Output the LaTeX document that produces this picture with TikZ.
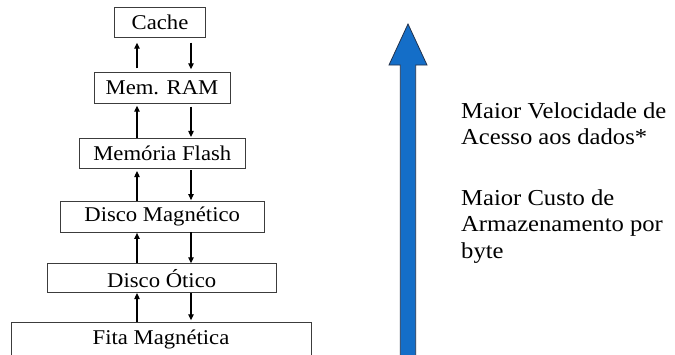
\documentclass[tikz,border=0pt]{standalone}
\usepackage{fontspec}
\setmainfont{Liberation Serif}[FakeStretch=1.08]
\usetikzlibrary{arrows.meta}
\definecolor{arrowblue}{RGB}{20,110,200}
\definecolor{arrowedge}{RGB}{35,50,75}
\definecolor{boxedge}{RGB}{60,60,60}
\begin{document}
\begin{tikzpicture}[x=1pt,y=-1pt,
  memory/.style={draw=boxedge,line width=0.8pt,fill=white,inner sep=0pt,font=\fontsize{21}{24}\selectfont},
  flow/.style={line width=1.1pt,-{Triangle[length=6pt,width=5.5pt]}},
  label/.style={anchor=base west,inner sep=0pt,font=\fontsize{22.8}{27}\selectfont}]
\useasboundingbox (0,0) rectangle (675,354);
\fill[white] (0,0) rectangle (675,354);
% boxes
\node[memory,minimum width=91pt,minimum height=30pt] (cache) at (160,22.3) {Cache};
\node[memory,minimum width=136pt,minimum height=30.6pt] (ram) at (162,88) {Mem. RAM};
\node[memory,minimum width=166.7pt,minimum height=30.4pt] (flash) at (162.3,153.5) {Memória Flash};
\node[memory,minimum width=203.7pt,minimum height=31pt] (disco) at (162.2,216.5) {Disco Magnético};
\node[memory,minimum width=228.7pt,minimum height=29pt] (otico) at (161.7,278.2) {Disco Ótico};
\node[memory,minimum width=300pt,minimum height=32.8pt] (fita) at (161,339.1) {Fita Magnética};
% arrows
\coordinate (ux) at (137,0);
\coordinate (dx) at (191,0);
\draw[flow,shorten <=4pt,shorten >=5pt] (ram.north -| ux) -- (cache.south -| ux);
\draw[flow,shorten <=5pt,shorten >=3pt] (cache.south -| dx) -- (ram.north -| dx);
\draw[flow,shorten >=2pt] (flash.north -| ux) -- (ram.south -| ux);
\draw[flow,shorten <=3pt,shorten >=1pt] (ram.south -| dx) -- (flash.north -| dx);
\draw[flow,shorten >=2pt] (disco.north -| ux) -- (flash.south -| ux);
\draw[flow,shorten <=1pt,shorten >=0.5pt] (flash.south -| dx) -- (disco.north -| dx);
\draw[flow,shorten >=0.5pt] (otico.north -| ux) -- (disco.south -| ux);
\draw[flow] (disco.south -| dx) -- (otico.north -| dx);
\draw[flow] (fita.north -| ux) -- (otico.south -| ux);
\draw[flow,shorten >=2pt] (otico.south -| dx) -- (fita.north -| dx);
% big blue arrow
\filldraw[fill=arrowblue,draw=arrowedge,line width=0.8pt,line join=miter]
  (400.3,356) -- (400.3,65) -- (389,65) -- (408,24) -- (427,65) -- (415.7,65) -- (415.7,356) -- cycle;
% text
\node[label] (t1) at (461,118) {Maior Velocidade de};
\node[label] (t2) at (461,144.7) {Acesso aos dados*};
\node[label] (t3) at (461,205) {Maior Custo de};
\node[label] (t4) at (461,231.7) {Armazenamento por};
\node[label] (t5) at (461,258.4) {byte};
\end{tikzpicture}
\end{document}
